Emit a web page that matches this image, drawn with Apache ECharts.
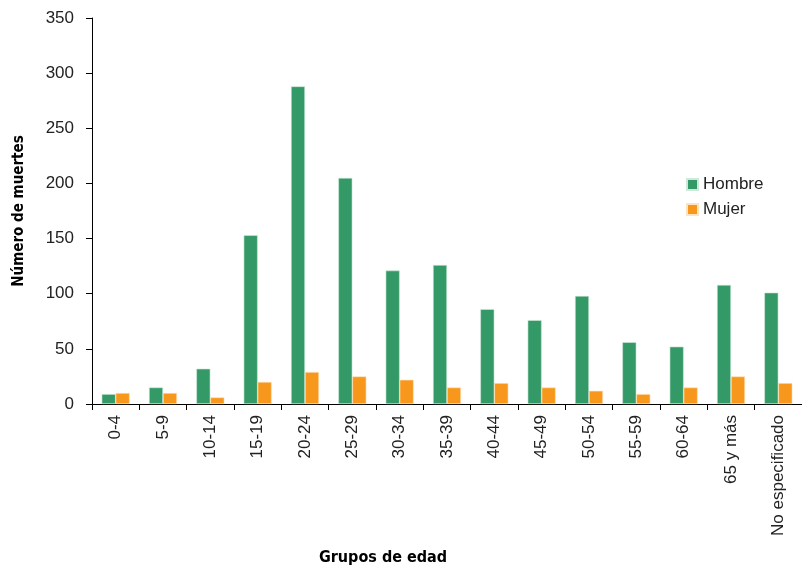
<!DOCTYPE html>
<html>
<head>
<meta charset="utf-8">
<script src="https://cdn.jsdelivr.net/npm/echarts@6/dist/echarts.min.js"></script>
<style>html,body{margin:0;padding:0;background:#fff}#c{width:802px;height:567px}</style>
</head>
<body>
<div id="c"></div>
<script>
const categories = ['0-4','5-9','10-14','15-19','20-24','25-29','30-34','35-39','40-44','45-49','50-54','55-59','60-64','65 y más','No especificado'];
const hombre = [9, 15, 32, 153, 288, 205, 121, 126, 86, 76, 98, 56, 52, 108, 101];
const mujer = [10, 10, 6, 20, 29, 25, 22, 15, 19, 15, 12, 9, 15, 25, 19];
const yTicks = [0, 50, 100, 150, 200, 250, 300, 350];

const labelFont = 'Liberation Sans';
const titleFont = '"DejaVu Sans Condensed", "DejaVu Sans", sans-serif';
const chart = echarts.init(document.getElementById('c'), null, {renderer: 'canvas'});
chart.setOption({
  animation: false,
  backgroundColor: '#fff',
  grid: {left: 92, top: 18, width: 718, height: 386, containLabel: false},
  legend: {
    orient: 'vertical', left: 686, top: 176, padding: 0,
    itemWidth: 11, itemHeight: 11, itemGap: 8,
    icon: 'rect',
    textStyle: {fontFamily: labelFont, fontSize: 17, color: '#222'},
    data: ['Hombre', 'Mujer']
  },
  xAxis: {
    type: 'category', data: categories,
    axisLine: {lineStyle: {color: '#000', width: 1}},
    axisTick: {show: true, length: 6, alignWithLabel: false, lineStyle: {color: '#000'}},
    axisLabel: {rotate: 90, fontFamily: labelFont, fontSize: 17, color: '#222', margin: 11, interval: 0}
  },
  yAxis: {
    type: 'value', min: yTicks[0], max: yTicks[yTicks.length-1], interval: 50,
    name: 'Número de muertes', nameLocation: 'middle', nameGap: 65,
    nameTextStyle: {fontFamily: titleFont, fontWeight: 'bold', fontSize: 15, color: '#000'},
    axisLine: {show: true, lineStyle: {color: '#000', width: 1}},
    axisTick: {show: true, length: 6, lineStyle: {color: '#000'}},
    splitLine: {show: false},
    axisLabel: {fontFamily: labelFont, fontSize: 17, color: '#222', margin: 18}
  },
  graphic: [{
    type: 'text', x: 383, y: 558,
    style: {text: 'Grupos de edad', fontFamily: titleFont, fontWeight: 'bold', fontSize: 16, fill: '#000', align: 'center', verticalAlign: 'middle'}
  }],
  series: [
    {name: 'Hombre', type: 'bar', data: hombre, barWidth: 14, barGap: '0%',
     itemStyle: {color: '#339966', borderColor: '#cfe8d9', borderWidth: 0.6}},
    {name: 'Mujer', type: 'bar', data: mujer, barWidth: 14, barGap: '0%',
     itemStyle: {color: '#F7981D', borderColor: '#fde3c0', borderWidth: 0.6}}
  ]
});
</script>
</body>
</html>
